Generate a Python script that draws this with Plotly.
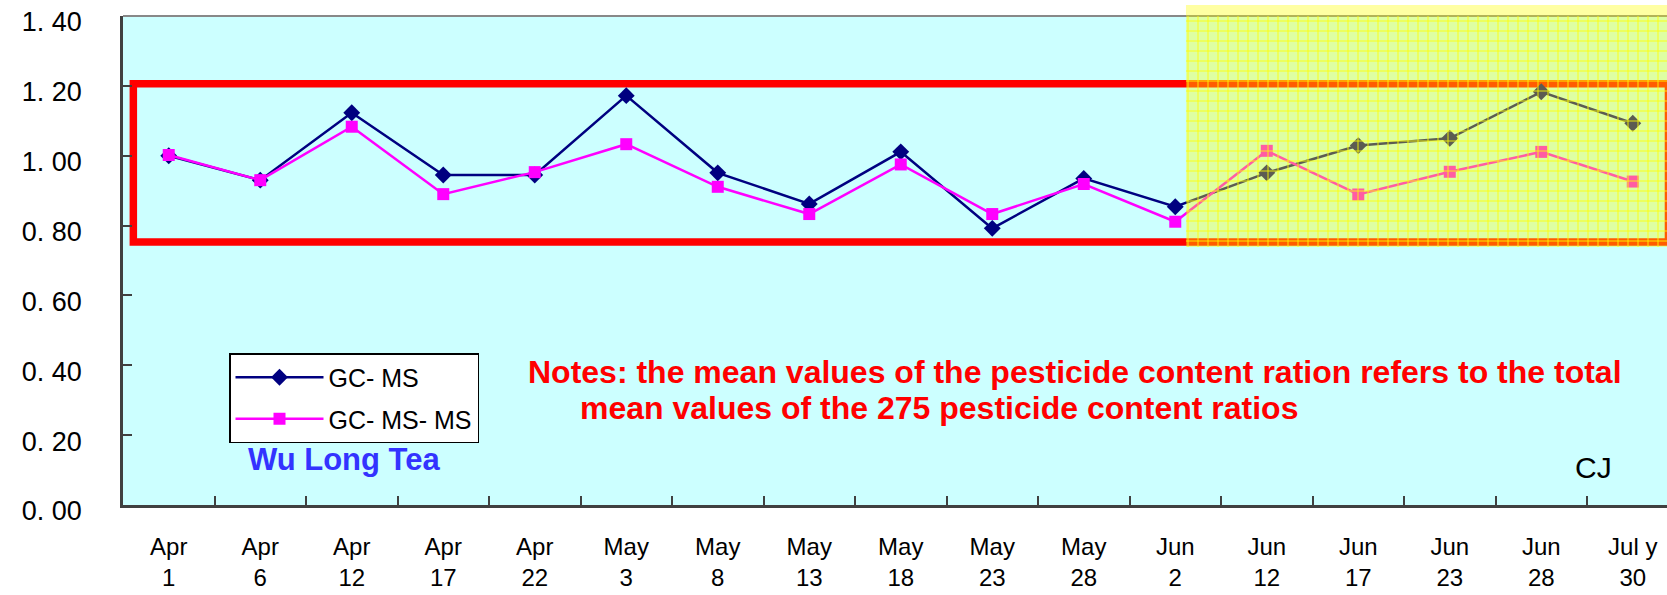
import plotly.graph_objects as go

# ---- data ----
months = ["Apr", "Apr", "Apr", "Apr", "Apr", "May", "May", "May", "May", "May", "May",
          "Jun", "Jun", "Jun", "Jun", "Jun", "Jul y"]
days = ["1", "6", "12", "17", "22", "3", "8", "13", "18", "23", "28",
        "2", "12", "17", "23", "28", "30"]
gc_ms = [1.00, 0.93, 1.123, 0.945, 0.945, 1.172, 0.951, 0.862, 1.011, 0.792, 0.935,
         0.854, 0.951, 1.029, 1.050, 1.183, 1.093]
gc_ms_ms = [1.002, 0.93, 1.083, 0.89, 0.953, 1.033, 0.911, 0.833, 0.975, 0.833, 0.919,
            0.811, 1.014, 0.889, 0.954, 1.011, 0.926]
y_ticks = [0.0, 0.2, 0.4, 0.6, 0.8, 1.0, 1.2, 1.4]
y_ticktext = ["0. 00", "0. 20", "0. 40", "0. 60", "0. 80", "1. 00", "1. 20", "1. 40"]

categories = [f"{m}<br>{d}" for m, d in zip(months, days)]

# ---- layout constants ----
X_RANGE = [-0.5, 16.374]
BOX_X0, BOX_X1, BOX_Y0, BOX_Y1 = -0.387, 16.39, 0.753, 1.206
HL_X0, HL_X1, HL_Y0, HL_Y1 = 11.117, 16.8, 0.7386, 1.6

FONT = "Arial, Liberation Sans, sans-serif"

fig = go.Figure()

fig.add_trace(go.Scatter(
    x=categories, y=gc_ms, name="GC- MS", mode="lines+markers",
    line=dict(color="#000080", width=2.5),
    marker=dict(symbol="diamond", size=13, color="#000080"),
    legendgroup="a",
))
fig.add_trace(go.Scatter(
    x=categories, y=gc_ms_ms, name="GC- MS- MS", mode="lines+markers",
    line=dict(color="#ff00ff", width=2.5),
    marker=dict(symbol="square", size=12, color="#ff00ff"),
    legendgroup="b",
))

# grid texture of the highlighted region (on overlaid numeric axis)
fig.add_trace(go.Scatter(
    x=[HL_X0, HL_X1, HL_X1, HL_X0, HL_X0], y=[HL_Y0, HL_Y0, HL_Y1, HL_Y1, HL_Y0],
    xaxis="x2", yaxis="y", fill="toself", mode="none",
    fillcolor="rgba(0,0,0,0)",
    fillpattern=dict(shape="+", fgcolor="#ffff00", bgcolor="rgba(0,0,0,0)",
                     size=10, solidity=0.18, fgopacity=0.9),
    showlegend=False, hoverinfo="skip",
))

fig.update_layout(
    width=1667, height=595,
    margin=dict(l=123, r=0, t=16, b=90, autoexpand=False),
    paper_bgcolor="white", plot_bgcolor="#ccffff",
    font=dict(family=FONT, color="black", size=26),
    showlegend=True,
    legend=dict(
        x=(229 - 123) / (1667 - 123), y=(505 - 353) / 489,
        xanchor="left", yanchor="top",
        bgcolor="white", bordercolor="black", borderwidth=1.5,
        font=dict(size=25, family=FONT), itemwidth=88,
        tracegroupgap=6,
    ),
    xaxis=dict(
        type="category", categoryorder="array", categoryarray=categories,
        range=X_RANGE, tickson="boundaries", ticks="inside", ticklen=9,
        tickwidth=1.5, tickcolor="#404040",
        showline=True, linecolor="#404040", linewidth=2.5,
        showgrid=False, zeroline=False, ticklabelstandoff=18,
        tickfont=dict(size=24), automargin=False,
    ),
    xaxis2=dict(overlaying="x", range=X_RANGE, visible=False, anchor="y"),
    yaxis=dict(
        range=[0, 1.4], tickmode="array", tickvals=y_ticks, ticktext=y_ticktext,
        ticks="inside", ticklen=9, tickwidth=1.5, tickcolor="#404040",
        showline=True, linecolor="#404040", linewidth=2.5,
        showgrid=False, zeroline=False, automargin=False,
        ticklabelstandoff=33, ticklabelshift=6, tickfont=dict(size=27),
    ),
    shapes=[
        # top frame line
        dict(type="line", xref="paper", yref="paper", x0=0, x1=1, y0=1, y1=1,
             line=dict(color="#888888", width=2), layer="below"),
        # red rectangle
        dict(type="rect", xref="x", yref="y", x0=BOX_X0, x1=BOX_X1, y0=BOX_Y0, y1=BOX_Y1,
             line=dict(color="#ff0000", width=7.5), fillcolor="rgba(0,0,0,0)", layer="below"),
        # yellow highlight region
        dict(type="rect", xref="x", yref="paper", x0=HL_X0, x1=HL_X1,
             y0=(505 - 247) / 489, y1=(505 - 5) / 489,
             line=dict(width=0), fillcolor="rgba(255,255,0,0.36)", layer="above"),
    ],
    annotations=[
        dict(text="<b>Notes: the mean values of the pesticide content ration refers to the total</b>",
             xref="paper", yref="paper", x=(526 - 123) / 1544, y=(505 - 372) / 489,
             xanchor="left", yanchor="middle", showarrow=False,
             font=dict(size=32, color="#ff0000", family=FONT)),
        dict(text="<b>mean values of the 275 pesticide content ratios</b>",
             xref="paper", yref="paper", x=(578 - 123) / 1544, y=(505 - 408) / 489,
             xanchor="left", yanchor="middle", showarrow=False,
             font=dict(size=32, color="#ff0000", family=FONT)),
        dict(text="<b>Wu Long Tea</b>",
             xref="paper", yref="paper", x=(246 - 123) / 1544, y=(505 - 459) / 489,
             xanchor="left", yanchor="middle", showarrow=False,
             font=dict(size=31, color="#3333ff", family=FONT)),
        dict(text="CJ",
             xref="paper", yref="paper", x=(1573 - 123) / 1544, y=(505 - 467) / 489,
             xanchor="left", yanchor="middle", showarrow=False,
             font=dict(size=30, color="black", family=FONT)),
    ],
)

fig.write_html(
    "out.html",
    config={"displayModeBar": False},
    post_script="document.body.style.margin='0';document.body.style.overflow='hidden';",
)
